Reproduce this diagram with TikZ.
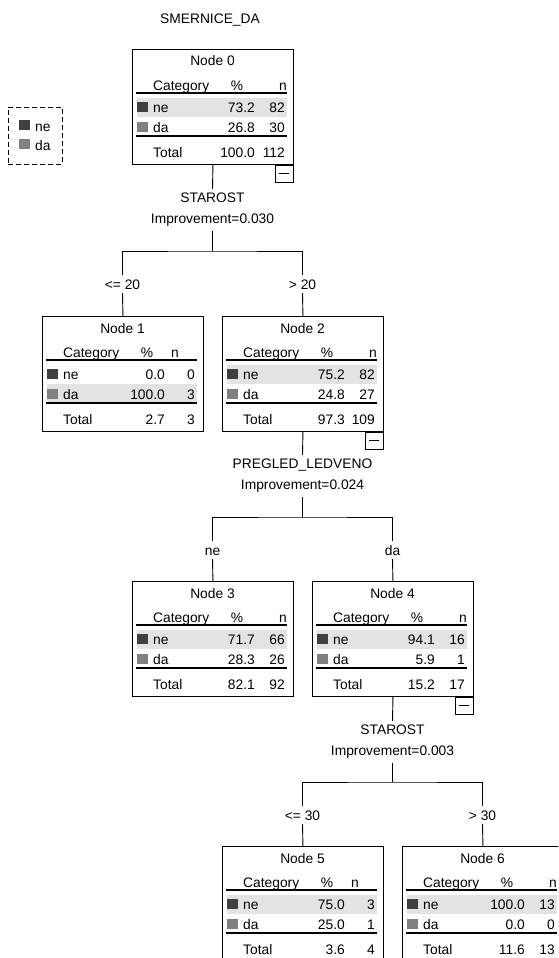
\documentclass[tikz,border=0pt]{standalone}
\usepackage{fontspec}
\setmainfont{Liberation Sans}
\usetikzlibrary{positioning}

\definecolor{swne}{gray}{0.25}
\definecolor{swda}{gray}{0.5}
\definecolor{rowshade}{gray}{0.89}

\newcommand{\cattextfont}{\fontsize{13.8pt}{21pt}\selectfont}

\tikzset{
  catframe/.style={draw, line width=0.9pt, minimum width=161pt, minimum height=115pt, inner sep=0pt, anchor=north west},
  celltext/.style={inner sep=0pt, font=\cattextfont},
  swatch/.style={inner sep=0pt, minimum width=11pt, minimum height=10pt, anchor=south west},
  splitlabel/.style={align=center, inner sep=4pt, anchor=north, font=\cattextfont},
  edgelabel/.style={inner sep=4pt, anchor=base, text height=10pt, text depth=0pt, font=\cattextfont},
  conn/.style={line width=0.9pt},
  collapsebox/.style={draw, line width=0.9pt, minimum width=18pt, minimum height=17pt, inner sep=0pt, anchor=north east}
}

% #1 node number, #2 top left corner, #3 shaded row, #4 x of the n header,
% #5 category rows cat/pct/cnt, #6 total pct, #7 total n
\newcommand{\catbox}[7]{%
  \node[catframe] (n#1) at (#2) {};
  \fill[rowshade] ([shift={(5pt,{-30pt-19pt*#3})}]n#1.north west) rectangle ++(150pt,-19pt);
  \node[celltext, anchor=base] (n#1-title) at ([shift={(80.5pt,-17pt)}]n#1.north west) {Node #1};
  \node[celltext, anchor=base west] (n#1-cat) at ([shift={(21pt,-41pt)}]n#1.north west) {Category};
  \node[celltext, anchor=base] (n#1-pct) at ([shift={(105pt,-41pt)}]n#1.north west) {\%};
  \node[celltext, anchor=base] (n#1-n) at ([shift={(#4pt,-41pt)}]n#1.north west) {n};
  \draw[line width=1.1pt] ([shift={(4pt,-44pt)}]n#1.north west) -- ++(151pt,0pt);
  \foreach \cat/\pct/\cnt [count=\r] in {#5} {
    \node[swatch, fill=sw\cat] (n#1-\cat-sw) at ([shift={(5pt,{-43pt-20pt*\r})}]n#1.north west) {};
    \node[celltext, anchor=base west] (n#1-\cat) at ([shift={(21pt,{-43pt-20pt*\r})}]n#1.north west) {\cat};
    \node[celltext, anchor=base east] (n#1-\cat-pct) at ([shift={(123pt,{-43pt-20pt*\r})}]n#1.north west) {\pct};
    \node[celltext, anchor=base east] (n#1-\cat-n) at ([shift={(153pt,{-43pt-20pt*\r})}]n#1.north west) {\cnt};
  }
  \draw[line width=1.6pt] ([shift={(4pt,-87pt)}]n#1.north west) -- ++(151pt,0pt);
  \node[celltext, anchor=base west] (n#1-tot) at ([shift={(21pt,-108pt)}]n#1.north west) {Total};
  \node[celltext, anchor=base east] (n#1-tot-pct) at ([shift={(123pt,-108pt)}]n#1.north west) {#6};
  \node[celltext, anchor=base east] (n#1-tot-n) at ([shift={(153pt,-108pt)}]n#1.north west) {#7};
}

% the small box with the minus under a split node
\newcommand{\collapse}[1]{%
  \node[collapsebox] (#1-c) at (#1.south east) {};
  \draw[line width=0.9pt] ([xshift=-5pt]#1-c.center) -- ([xshift=5pt]#1-c.center);
}

\begin{document}
\begin{tikzpicture}[x=1pt, y=1pt]
    \useasboundingbox (0,0) rectangle (558,-958);
    \clip (0,0) rectangle (558,-958);

    % Title and legend
    \node[celltext, anchor=base] (title) at (210,-24) {SMERNICE\_DA};
    \node[draw, line width=0.8pt, dash pattern=on 5pt off 3pt, minimum width=54pt, minimum height=57pt, inner sep=0pt, anchor=north west] (legend) at (8,-107) {};
    \node[swatch, fill=swne] (leg-ne-sw) at (19,-130) {};
    \node[celltext, anchor=base west] (leg-ne) at (35,-131) {ne};
    \node[swatch, fill=swda] (leg-da-sw) at (19,-149) {};
    \node[celltext, anchor=base west] (leg-da) at (35,-150) {da};

    % Tree nodes
    \catbox{0}{132,-49}{1}{151}{ne/73.2/82, da/26.8/30}{100.0}{112}
    \catbox{1}{42,-316}{2}{133}{ne/0.0/0, da/100.0/3}{2.7}{3}
    \catbox{2}{222,-316}{1}{151}{ne/75.2/82, da/24.8/27}{97.3}{109}
    \catbox{3}{132,-581}{1}{151}{ne/71.7/66, da/28.3/26}{82.1}{92}
    \catbox{4}{312,-581}{1}{151}{ne/94.1/16, da/5.9/1}{15.2}{17}
    \catbox{5}{222,-846}{1}{133}{ne/75.0/3, da/25.0/1}{3.6}{4}
    \catbox{6}{402,-846}{1}{151}{ne/100.0/13, da/0.0/0}{11.6}{13}
    \collapse{n0}
    \collapse{n2}
    \collapse{n4}

    % Split labels
    \node[splitlabel] (s0) at (212.5,-189) {STAROST\\Improvement=0.030};
    \node[splitlabel] (s2) at (302.5,-455) {PREGLED\_LEDVENO\\Improvement=0.024};
    \node[splitlabel] (s4) at (392.5,-721) {STAROST\\Improvement=0.003};
    \coordinate (j0) at (212.5,-251);
    \coordinate (j2) at (302.5,-517);
    \coordinate (j4) at (392.5,-782);

    % Branch labels
    \node[edgelabel] (e1) at (122.5,-289) {<= 20};
    \node[edgelabel] (e2) at (302.5,-289) {> 20};
    \node[edgelabel] (e3) at (212.5,-555) {ne};
    \node[edgelabel] (e4) at (392.5,-555) {da};
    \node[edgelabel] (e5) at (302.5,-820) {<= 30};
    \node[edgelabel] (e6) at (482.5,-820) {> 30};

    % Connectors
    \draw[conn] (n0.south) -- (s0.north);
    \draw[conn] (s0.south) -- (j0);
    \draw[conn] (e1.north) |- (j0) -| (e2.north);
    \draw[conn] (e1.south) -- (n1.north);
    \draw[conn] (e2.south) -- (n2.north);
    \draw[conn] (n2.south) -- (s2.north);
    \draw[conn] (s2.south) -- (j2);
    \draw[conn] (e3.north) |- (j2) -| (e4.north);
    \draw[conn] (e3.south) -- (n3.north);
    \draw[conn] (e4.south) -- (n4.north);
    \draw[conn] (n4.south) -- (s4.north);
    \draw[conn] (s4.south) -- (j4);
    \draw[conn] (e5.north) |- (j4) -| (e6.north);
    \draw[conn] (e5.south) -- (n5.north);
    \draw[conn] (e6.south) -- (n6.north);
\end{tikzpicture}
\end{document}
